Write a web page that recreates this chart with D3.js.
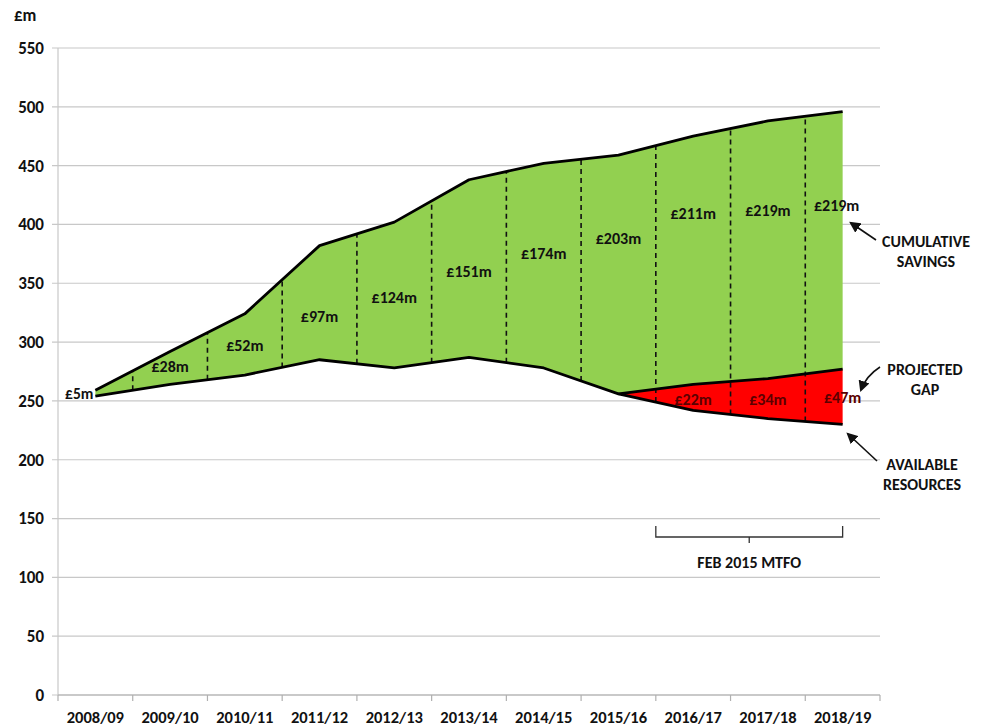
<!DOCTYPE html>
<html><head><meta charset="utf-8">
<script src="https://cdn.jsdelivr.net/npm/d3@7/dist/d3.min.js"></script>
<style>
body{margin:0;background:#fff;}
text{font-family:Carlito,Lato,"Liberation Sans",sans-serif;font-weight:700;fill:#111;}
</style></head>
<body><svg id="c" width="987" height="728"></svg>
<script>
const years = ["2008/09","2009/10","2010/11","2011/12","2012/13","2013/14","2014/15","2015/16","2016/17","2017/18","2018/19"];
const resources = [254,264,272,285,278,287,278,256,242,235,230];
const gap = [0,0,0,0,0,0,0,0,22,34,47];
const savings = [5,28,52,97,124,151,174,203,211,219,219];
const savingsLabelAt = [null,279,297,322,338,360,375,388,409,412,416];
const gapLabelAt = [null,null,null,null,null,null,null,null,251,251,253];
const yTicks = [0,50,100,150,200,250,300,350,400,450,500,550];
const gapStart = 7; // index of 2015/16 where the projected gap begins

const svg = d3.select("#c");
const x = d3.scaleBand().domain(years).range([58, 880]).padding(0);
const y = d3.scaleLinear().domain([0, 550]).range([695, 48]);
const cx = d => x(d) + x.bandwidth() / 2;

const data = years.map((yr, i) => ({
  yr, i,
  res: resources[i],
  gapTop: resources[i] + gap[i],
  top: resources[i] + gap[i] + savings[i]
}));

// gridlines
svg.append("g").selectAll("line").data(yTicks).join("line")
  .attr("x1", 52).attr("x2", 880)
  .attr("y1", d => y(d)).attr("y2", d => y(d))
  .attr("stroke", "#c8c8c8").attr("stroke-width", 1.2);

// y axis line
svg.append("line").attr("x1", 58).attr("x2", 58).attr("y1", y(550)).attr("y2", y(0))
  .attr("stroke", "#c8c8c8").attr("stroke-width", 1.2);

// y tick labels
svg.append("g").selectAll("text").data(yTicks).join("text")
  .attr("x", 44).attr("y", d => y(d)).attr("dy", "0.35em")
  .attr("text-anchor", "end").style("font-size", "17px").text(d => d);

svg.append("text").attr("x", 14).attr("y", 21).style("font-size", "17px").text("£m");

// x axis
const xAxis = svg.append("g").attr("transform", `translate(0,${y(0)})`);
xAxis.append("line").attr("x1", 58).attr("x2", 880).attr("stroke", "#b0b0b0").attr("stroke-width", 1.2);
const bounds = years.map(d => x(d)).concat([x(years[years.length - 1]) + x.bandwidth()]);
xAxis.selectAll("line.tk").data(bounds).join("line").attr("class", "tk")
  .attr("x1", d => d).attr("x2", d => d).attr("y1", 0).attr("y2", 6)
  .attr("stroke", "#b0b0b0").attr("stroke-width", 1.2);
xAxis.selectAll("text").data(years).join("text")
  .attr("x", d => cx(d)).attr("y", 28).attr("text-anchor", "middle")
  .style("font-size", "16.5px").text(d => d);

// areas
const green = d3.area().x(d => cx(d.yr)).y0(d => y(d.gapTop)).y1(d => y(d.top));
svg.append("path").datum(data).attr("d", green).attr("fill", "#92D050");
const gapData = data.filter(d => d.i >= gapStart);
const red = d3.area().x(d => cx(d.yr)).y0(d => y(d.res)).y1(d => y(d.gapTop));
svg.append("path").datum(gapData).attr("d", red).attr("fill", "#FF0000");

// dashed boundary lines
const seg = d3.range(years.length - 1).map(i => ({
  xb: x(years[i + 1]),
  lo: (data[i].res + data[i + 1].res) / 2,
  hi: (data[i].top + data[i + 1].top) / 2
}));
svg.append("g").selectAll("line").data(seg).join("line")
  .attr("x1", d => d.xb).attr("x2", d => d.xb)
  .attr("y1", d => y(d.lo)).attr("y2", d => y(d.hi))
  .attr("stroke", "#111").attr("stroke-width", 1.6).attr("stroke-dasharray", "5,4");

// lines
const line = acc => d3.line().x(d => cx(d.yr)).y(d => y(acc(d)));
const lineStyle = p => p.attr("fill", "none").attr("stroke", "#000").attr("stroke-width", 2.8).attr("stroke-linejoin", "round");
svg.append("path").datum(data).attr("d", line(d => d.top)).call(lineStyle);
svg.append("path").datum(data).attr("d", line(d => d.res)).call(lineStyle);
svg.append("path").datum(gapData).attr("d", line(d => d.gapTop)).call(lineStyle);

// savings labels
svg.append("text").attr("x", cx(years[0]) - 2).attr("y", y(resources[0] + savings[0] / 2)).attr("dy", "0.35em")
  .attr("text-anchor", "end").style("font-size", "15.5px").text("£" + savings[0] + "m");
svg.append("g").selectAll("text").data(data.filter(d => d.i > 0)).join("text")
  .attr("x", d => cx(d.yr) - (d.i === years.length - 1 ? 6 : 0))
  .attr("y", d => y(savingsLabelAt[d.i])).attr("dy", "0.35em")
  .attr("text-anchor", "middle").style("font-size", "16px")
  .text(d => "£" + savings[d.i] + "m");
svg.append("g").selectAll("text").data(data.filter(d => gap[d.i] > 0)).join("text")
  .attr("x", d => cx(d.yr)).attr("y", d => y(gapLabelAt[d.i])).attr("dy", "0.35em")
  .attr("text-anchor", "middle").style("font-size", "16px").style("fill", "#5a0000")
  .text(d => "£" + gap[d.i] + "m");

// annotations
const defs = svg.append("defs");
defs.append("marker").attr("id", "ah").attr("viewBox", "0 0 10 10").attr("refX", 8).attr("refY", 5)
  .attr("markerWidth", 7).attr("markerHeight", 7).attr("orient", "auto-start-reverse")
  .append("path").attr("d", "M0,0 L10,5 L0,10 z").attr("fill", "#111");

const ann = (lines, tx, ty) => {
  const t = svg.append("text").attr("x", tx).attr("y", ty).attr("text-anchor", "middle").style("font-size", "16px");
  lines.forEach((l, k) => t.append("tspan").attr("x", tx).attr("dy", k === 0 ? 0 : 20).text(l));
};
ann(["CUMULATIVE", "SAVINGS"], 926, 247);
ann(["PROJECTED", "GAP"], 925, 375);
ann(["AVAILABLE", "RESOURCES"], 922, 470);

svg.append("path").attr("d", "M876,240 L851,223").attr("stroke", "#111").attr("stroke-width", 1.6)
  .attr("fill", "none").attr("marker-end", "url(#ah)");
svg.append("path").attr("d", "M880,367 Q866,376 861,390").attr("stroke", "#111").attr("stroke-width", 1.6)
  .attr("fill", "none").attr("marker-end", "url(#ah)");
svg.append("path").attr("d", "M877,461 L848,434").attr("stroke", "#111").attr("stroke-width", 1.6)
  .attr("fill", "none").attr("marker-end", "url(#ah)");

// bracket for MTFO
const bx0 = x(years[8]), bx1 = cx(years[10]), bm = (bx0 + bx1) / 2;
svg.append("path")
  .attr("d", `M${bx0},526 L${bx0},537 L${bx1},537 L${bx1},526 M${bm},537 L${bm},543`)
  .attr("stroke", "#333").attr("stroke-width", 1.3).attr("fill", "none");
svg.append("text").attr("x", bm).attr("y", 568).attr("text-anchor", "middle").style("font-size", "16px").text("FEB 2015 MTFO");
</script></body></html>
